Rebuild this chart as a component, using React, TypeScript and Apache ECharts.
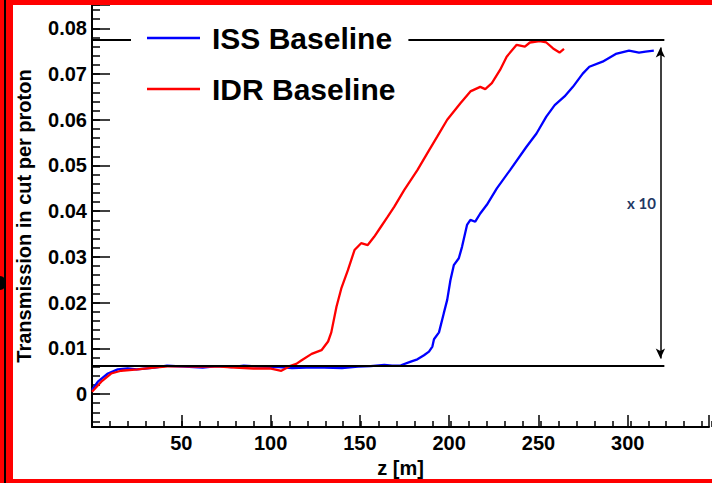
import React, { useEffect, useRef } from "react";
import * as echarts from "echarts";

// ISS Baseline (blue)
const issZ = [0, 3.3, 8.9, 14.4, 20, 25, 35, 42, 52, 62, 70, 78, 85, 95, 105, 112, 120, 130, 140, 148.9, 156, 163.7, 168, 173, 178.5, 182.2, 185.9, 188.7, 190.6, 191.5, 194.3, 197, 198.9, 200.7, 202.6, 205.4, 207.2, 210, 211.9, 214.6, 217.4, 221.1, 226.7, 234.1, 243.3, 248.9, 254.4, 259.1, 264.6, 269.3, 274.8, 278.5, 285.9, 293.3, 300.7, 306.3, 310, 314.6];
const issV = [0.0009, 0.0027, 0.0045, 0.0054, 0.0056, 0.0054, 0.0058, 0.0062, 0.006, 0.0058, 0.0061, 0.0059, 0.0062, 0.006, 0.0059, 0.0057, 0.0058, 0.0058, 0.0057, 0.006, 0.0061, 0.0064, 0.0062, 0.0063, 0.0071, 0.0076, 0.0085, 0.0093, 0.0104, 0.012, 0.0135, 0.0177, 0.0206, 0.0249, 0.0282, 0.0297, 0.0322, 0.037, 0.0381, 0.0377, 0.0395, 0.0414, 0.045, 0.049, 0.0541, 0.057, 0.0607, 0.0632, 0.0651, 0.0672, 0.0701, 0.0716, 0.0727, 0.0744, 0.0751, 0.0747, 0.0749, 0.0751];

// IDR Baseline (red)
const idrZ = [0, 5.2, 10.7, 16.3, 25.6, 34.8, 44, 58, 71.7, 80, 90.4, 99.6, 106, 110.7, 114.4, 117.4, 123, 128.5, 132.2, 134, 136.9, 139.6, 143.3, 147, 150.7, 154.4, 158, 161.8, 165.6, 169.3, 174.8, 182.2, 187.8, 193.3, 198.9, 206.3, 211.9, 217.4, 220.2, 223.9, 228.5, 232.2, 237.8, 242.4, 245.2, 250.7, 254.4, 258.2, 261.8, 264.3];
const idrV = [0.0005, 0.0027, 0.0045, 0.0051, 0.0054, 0.0058, 0.0061, 0.006, 0.006, 0.0058, 0.0056, 0.0056, 0.0051, 0.0061, 0.0066, 0.0074, 0.0088, 0.0096, 0.0115, 0.0135, 0.0191, 0.0231, 0.0271, 0.0315, 0.033, 0.0326, 0.0344, 0.0366, 0.0388, 0.041, 0.0446, 0.049, 0.0527, 0.0563, 0.06, 0.0636, 0.0662, 0.0672, 0.0667, 0.068, 0.0709, 0.0738, 0.0764, 0.076, 0.0769, 0.0772, 0.0769, 0.0756, 0.0747, 0.0755];

// Annotation levels
const levelHigh = 0.0775;
const levelLow = 0.0061;
const levelEndZ = 320.5;
const arrowZ = 318.3;
const arrowFrom = 0.0078;
const arrowTo = 0.0758;

// Axis ranges
const xRange = [0, 345.5];
const yRange = [-0.0072, 0.0851];

const FONT = '"Liberation Sans", Arial, Helvetica, sans-serif';

export default function App() {
  const ref = useRef<HTMLDivElement>(null);
  useEffect(() => {
    const chart = echarts.init(ref.current!, null, { renderer: "svg" });
    const iss = issZ.map((z, i) => [z, issV[i]]);
    const idr = idrZ.map((z, i) => [z, idrV[i]]);
    const grid = { left: 92, top: 5, right: -2, bottom: 56 };
    const black = "#000";
    chart.setOption({
      animation: false,
      backgroundColor: "#fff",
      grid: [grid, { ...grid }],
      xAxis: [
        {
          type: "value",
          gridIndex: 0,
          min: xRange[0],
          max: xRange[1],
          interval: 50,
          name: "z [m]",
          nameLocation: "middle",
          nameGap: 22,
          nameTextStyle: { fontFamily: FONT, fontWeight: "bold", fontSize: 20, color: black },
          axisLine: { show: true, onZero: false, lineStyle: { color: black, width: 2 } },
          axisTick: { show: true, inside: true, length: 12, lineStyle: { color: black, width: 1.5 } },
          axisLabel: {
            margin: 6,
            fontFamily: FONT,
            fontWeight: "bold",
            fontSize: 20,
            color: black,
            formatter: (v: number) => (v > 0 && v <= 300 && Math.abs(v % 50) < 1e-6 ? String(v) : ""),
          },
          splitLine: { show: false },
        },
        {
          type: "value",
          gridIndex: 1,
          min: xRange[0],
          max: xRange[1],
          interval: 10,
          axisLine: { show: false, onZero: false },
          axisTick: { show: true, inside: true, length: 6, lineStyle: { color: black, width: 1.5 } },
          axisLabel: { show: false },
          splitLine: { show: false },
        },
      ],
      yAxis: [
        {
          type: "value",
          gridIndex: 0,
          min: yRange[0],
          max: yRange[1],
          minInterval: 0.01,
          maxInterval: 0.01,
          name: "Transmission in cut per proton",
          nameLocation: "middle",
          nameGap: 58,
          nameRotate: 90,
          nameTextStyle: { fontFamily: FONT, fontWeight: "bold", fontSize: 20, color: black },
          axisLine: { show: true, onZero: false, lineStyle: { color: black, width: 2 } },
          axisTick: { show: true, inside: true, length: 18, lineStyle: { color: black, width: 1.5 } },
          axisLabel: {
            margin: 5,
            fontFamily: FONT,
            fontWeight: "bold",
            fontSize: 20,
            color: black,
            formatter: (v: number) => {
              const k = Math.round(v * 100);
              if (Math.abs(v * 100 - k) > 1e-6 || k < 0 || k > 8) return "";
              return k === 0 ? "0" : (k / 100).toFixed(2);
            },
          },
          splitLine: { show: false },
        },
        {
          type: "value",
          gridIndex: 1,
          min: yRange[0],
          max: yRange[1],
          minInterval: 0.002,
          maxInterval: 0.002,
          axisLine: { show: false, onZero: false },
          axisTick: { show: true, inside: true, length: 8, lineStyle: { color: black, width: 1.5 } },
          axisLabel: { show: false },
          splitLine: { show: false },
        },
      ],
      legend: {
        data: ["ISS Baseline", "IDR Baseline"],
        orient: "vertical",
        left: 131,
        top: 13,
        z: 20,
        padding: [10, 13, 10, 16],
        itemGap: 21,
        itemWidth: 53,
        itemHeight: 2.5,
        icon: "rect",
        backgroundColor: "#fff",
        selectedMode: false,
        textStyle: { fontFamily: FONT, fontWeight: "bold", fontSize: 30, color: black, padding: [0, 0, 0, 7] },
      },
      series: [
        {
          name: "ISS Baseline",
          type: "line",
          xAxisIndex: 0,
          yAxisIndex: 0,
          data: iss,
          symbol: "none",
          color: "#0000ff",
          lineStyle: { color: "#0000ff", width: 2.3 },
          z: 2,
        },
        {
          name: "IDR Baseline",
          type: "line",
          xAxisIndex: 0,
          yAxisIndex: 0,
          data: idr,
          symbol: "none",
          color: "#ff0000",
          lineStyle: { color: "#ff0000", width: 2.3 },
          z: 2,
        },
        {
          name: "levels",
          type: "line",
          xAxisIndex: 0,
          yAxisIndex: 0,
          data: [],
          z: 3,
          markLine: {
            silent: true,
            animation: false,
            z: 3,
            label: { show: false },
            data: [
              [
                { coord: [0, levelHigh], symbol: "none", lineStyle: { color: black, width: 2, type: "solid" } },
                { coord: [levelEndZ, levelHigh], symbol: "none" },
              ],
              [
                { coord: [0, levelLow], symbol: "none", lineStyle: { color: black, width: 2, type: "solid" } },
                { coord: [levelEndZ, levelLow], symbol: "none" },
              ],
              [
                { coord: [arrowZ, arrowFrom], symbol: "arrow", symbolSize: [7, 10], lineStyle: { color: black, width: 1.5, type: "solid" } },
                { coord: [arrowZ, arrowTo], symbol: "arrow", symbolSize: [7, 10] },
              ],
            ],
          },
        },
      ],
      graphic: [
        { type: "text", left: 627, top: 195, style: { text: "x 10", fontFamily: "Lato, 'Open Sans', sans-serif", fontWeight: "bold", fontSize: 15, fill: "#1f3864" } },
        { type: "rect", left: 0, top: 0, shape: { width: 13, height: 483 }, style: { fill: "#ff0000" }, z: 100 },
        { type: "rect", left: 0, top: 0, shape: { width: 712, height: 5 }, style: { fill: "#ff0000" }, z: 100 },
        { type: "rect", left: 0, top: 479, shape: { width: 712, height: 4 }, style: { fill: "#ff0000" }, z: 100 },
        { type: "rect", left: 4, top: 0, shape: { width: 2, height: 483 }, style: { fill: "#000" }, z: 101 },
        { type: "ellipse", shape: { cx: 0, cy: 283, rx: 6, ry: 7 }, style: { fill: "#000" }, z: 101 },
      ],
    });
    return () => chart.dispose();
  }, []);
  return <div ref={ref} style={{ position: "fixed", left: 0, top: 0, width: 712, height: 483, background: "#fff" }} />;
}
